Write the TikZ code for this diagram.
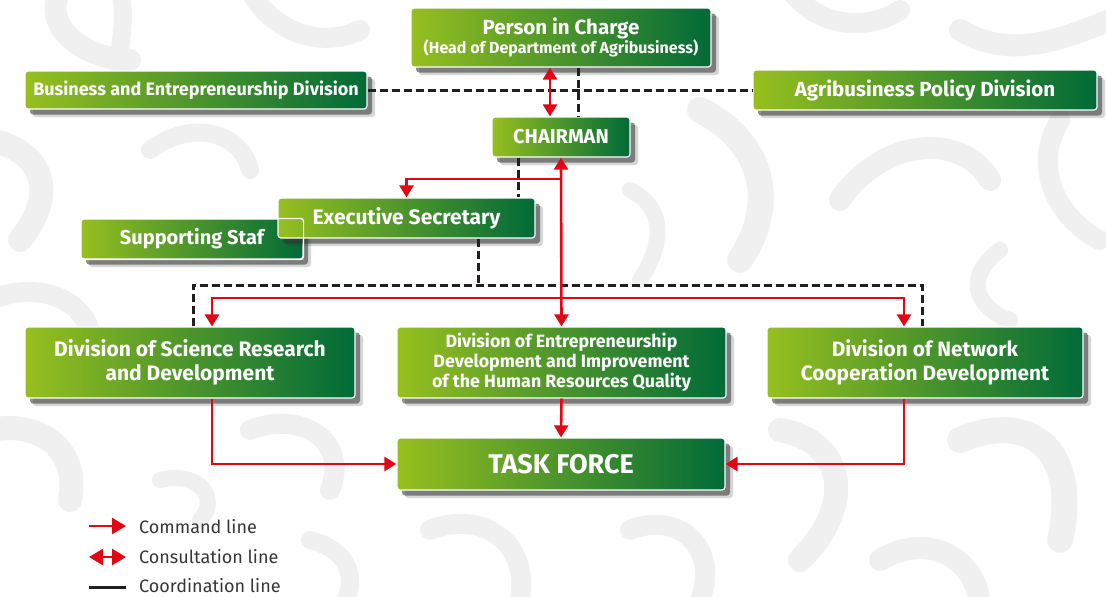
\documentclass[tikz,border=0pt]{standalone}
\usepackage{fontspec}
\setmainfont{Fira Sans}
\newfontfamily\lgfont{Fira Sans}
\usetikzlibrary{shadows,arrows.meta}
\definecolor{gl}{HTML}{97BF1F}
\definecolor{gd}{HTML}{006A38}
\definecolor{cred}{HTML}{E30613}
\definecolor{cblk}{HTML}{231F20}
\definecolor{bgpat}{HTML}{F0F0F0}
\tikzset{
  box/.style={rectangle, rounded corners=3pt, draw=white, line width=1.2pt,
    left color=gl, right color=gd, text=white, font=\bfseries, align=center, inner sep=2pt,
    drop shadow={shadow xshift=8pt, shadow yshift=-8pt, fill=black!80, opacity=0.2},
    drop shadow={shadow xshift=5pt, shadow yshift=-5.5pt, fill=black!80, opacity=0.55}},
  cmd/.style={draw=cred, line width=2.6pt, -{Triangle[length=12pt,width=14pt]}},
  cons/.style={draw=cred, line width=2.6pt, {Triangle[length=12pt,width=14pt]}-{Triangle[length=12pt,width=14pt]}},
  coordl/.style={draw=cblk, line width=3pt, dash pattern=on 8pt off 4pt},
  legend/.style={font=\lgfont\fontsize{18}{21}\selectfont, text=cblk!90, anchor=west, inner sep=0pt},
  swirl/.style={draw=bgpat, line cap=round, line width=#1},
  swirl/.default=20pt,
}
\begin{document}
\begin{tikzpicture}[x=1pt,y=-1pt]
\useasboundingbox[fill=white] (0,0) rectangle (1106,597);

% decorative background pattern
\begin{scope}
\clip (0,0) rectangle (1106,597);
\draw[swirl=22pt] (60,-10) .. controls (40,30) and (90,60) .. (130,60);
\draw[swirl=18pt] (120,-10) .. controls (130,30) and (110,60) .. (125,90);
\draw[swirl=24pt] (-10,140) .. controls (40,150) and (60,190) .. (20,240);
\draw[swirl=18pt] (150,150) .. controls (190,120) and (240,130) .. (250,170);
\draw[swirl=20pt] (-10,300) .. controls (40,280) and (80,300) .. (90,330);
\draw[swirl=20pt] (250,-10) .. controls (270,30) and (320,50) .. (360,30);
\draw[swirl=26pt] (700,110) .. controls (760,140) and (780,200) .. (740,260);
\draw[swirl=22pt] (840,200) .. controls (880,140) and (960,130) .. (990,180);
\draw[swirl=20pt] (1060,120) .. controls (1030,170) and (1060,220) .. (1100,240);
\draw[swirl=16pt] (630,190) .. controls (670,210) and (660,250) .. (640,280);
\draw[swirl=24pt] (-10,430) .. controls (40,420) and (80,450) .. (70,500);
\draw[swirl=20pt] (250,430) .. controls (300,410) and (350,440) .. (330,490);
\draw[swirl=24pt] (780,430) .. controls (840,440) and (860,500) .. (800,560);
\draw[swirl=26pt] (960,440) .. controls (1030,410) and (1080,450) .. (1060,540);
\draw[swirl=20pt] (430,530) .. controls (480,510) and (530,540) .. (520,600);
\draw[swirl=20pt] (630,530) .. controls (680,510) and (720,550) .. (700,600);
\draw[swirl=22pt] (880,560) .. controls (930,530) and (980,560) .. (980,610);
\draw[swirl=18pt] (310,540) .. controls (350,550) and (360,580) .. (340,610);
\draw[swirl=16pt] (160,480) .. controls (200,470) and (220,500) .. (200,520);
\draw[swirl=20pt] (790,-10) .. controls (820,30) and (870,30) .. (900,10);
\draw[swirl=22pt] (960,30) .. controls (1010,60) and (1060,40) .. (1110,20);
\draw[swirl=16pt] (1000,250) .. controls (960,280) and (980,310) .. (1010,320);
\end{scope}

% boxes
\node[box, minimum width=300pt, minimum height=59pt] (pic) at (561,37.5)
  {{\fontsize{20.5}{21}\selectfont Person in Charge}\\[-1pt]{\fontsize{16}{18}\selectfont (Head of Department of Agribusiness)}};
\node[box, minimum width=342pt, minimum height=38pt, font=\bfseries\fontsize{18}{20}\selectfont] (bed) at (196,90) {Business and Entrepreneurship Division};
\node[box, minimum width=344pt, minimum height=40pt, font=\bfseries\fontsize{20.5}{22}\selectfont] (apd) at (925,90) {Agribusiness Policy Division};
\node[box, minimum width=138pt, minimum height=40pt, font=\bfseries\fontsize{20}{22}\selectfont] (chair) at (561,137) {CHAIRMAN};
\node[box, minimum width=222pt, minimum height=40pt, font=\bfseries\fontsize{20}{22}\selectfont] (ss) at (192,239) {Supporting Staf};
\node[box, minimum width=257pt, minimum height=40pt, font=\bfseries\fontsize{21}{22}\selectfont] (es) at (406.5,218) {Executive Secretary};
\draw[white, line width=1.2pt, rounded corners=3pt] (ss.south west) rectangle (ss.north east);
\node[box, minimum width=330pt, minimum height=71pt, font=\bfseries\fontsize{21}{24}\selectfont] (dsr) at (190,362.5) {Division of Science Research\\and Development};
\node[box, minimum width=329pt, minimum height=71pt, font=\bfseries\fontsize{17.8}{20}\selectfont] (dep) at (561.5,362.5) {Division of Entrepreneurship\\Development and Improvement\\of the Human Resources Quality};
\node[box, minimum width=316pt, minimum height=71pt, font=\bfseries\fontsize{20.8}{24}\selectfont] (dnc) at (925,362.5) {Division of Network\\Cooperation Development};
\node[box, minimum width=328pt, minimum height=52pt, font=\bfseries\fontsize{27}{30}\selectfont] (tf) at (561,464) {TASK FORCE};

% coordination lines
\draw[coordl] (bed.east) -- (apd.west);
\draw[coordl] ([xshift=17pt]pic.south) -- ([xshift=17pt]chair.north);
\draw[coordl] ([xshift=-43pt]chair.south) -- ([xshift=111.5pt]es.north);
\coordinate (j3) at (478,285);
\coordinate (dsrN) at ([xshift=3pt]dsr.north);
\coordinate (dncN) at ([xshift=-3pt]dnc.north);
\draw[coordl] ([xshift=71.5pt]es.south) -- (j3);
\draw[coordl] (dsrN) |- (j3) -| (dncN);

% consultation
\draw[cons] ([xshift=-11pt]pic.south) -- ([xshift=-11pt]chair.north);

% command lines
\draw[cons] (chair.south) -- (dep.north);
\coordinate (j1) at (561,179);
\draw[cmd] (j1) -| (es.north);
\coordinate (j2) at (561,298);
\draw[cmd] (j2) -| ([xshift=22pt]dsr.north);
\draw[cmd] (j2) -| ([xshift=-21pt]dnc.north);
\draw[cmd] ([xshift=22pt]dsr.south) |- (tf.west);
\draw[cmd] ([xshift=-21pt]dnc.south) |- (tf.east);
\draw[cmd] (dep.south) -- (tf.north);

% legend
\coordinate (l1a) at (89,526); \coordinate (l1b) at (126,526);
\coordinate (l2a) at (89,557); \coordinate (l2b) at (126,557);
\coordinate (l3a) at (89,587); \coordinate (l3b) at (126,587);
\draw[cmd, -{Triangle[length=14pt,width=16pt]}] (l1a) -- (l1b);
\draw[cons, {Triangle[length=14pt,width=16pt]}-{Triangle[length=14pt,width=16pt]}] (l2a) -- (l2b);
\draw[cblk, line width=3pt] (l3a) -- (l3b);
\node[legend] (t1) at (139,527) {Command line};
\node[legend] (t2) at (139,557) {Consultation line};
\node[legend] (t3) at (139,586) {Coordination line};
\end{tikzpicture}
\end{document}
